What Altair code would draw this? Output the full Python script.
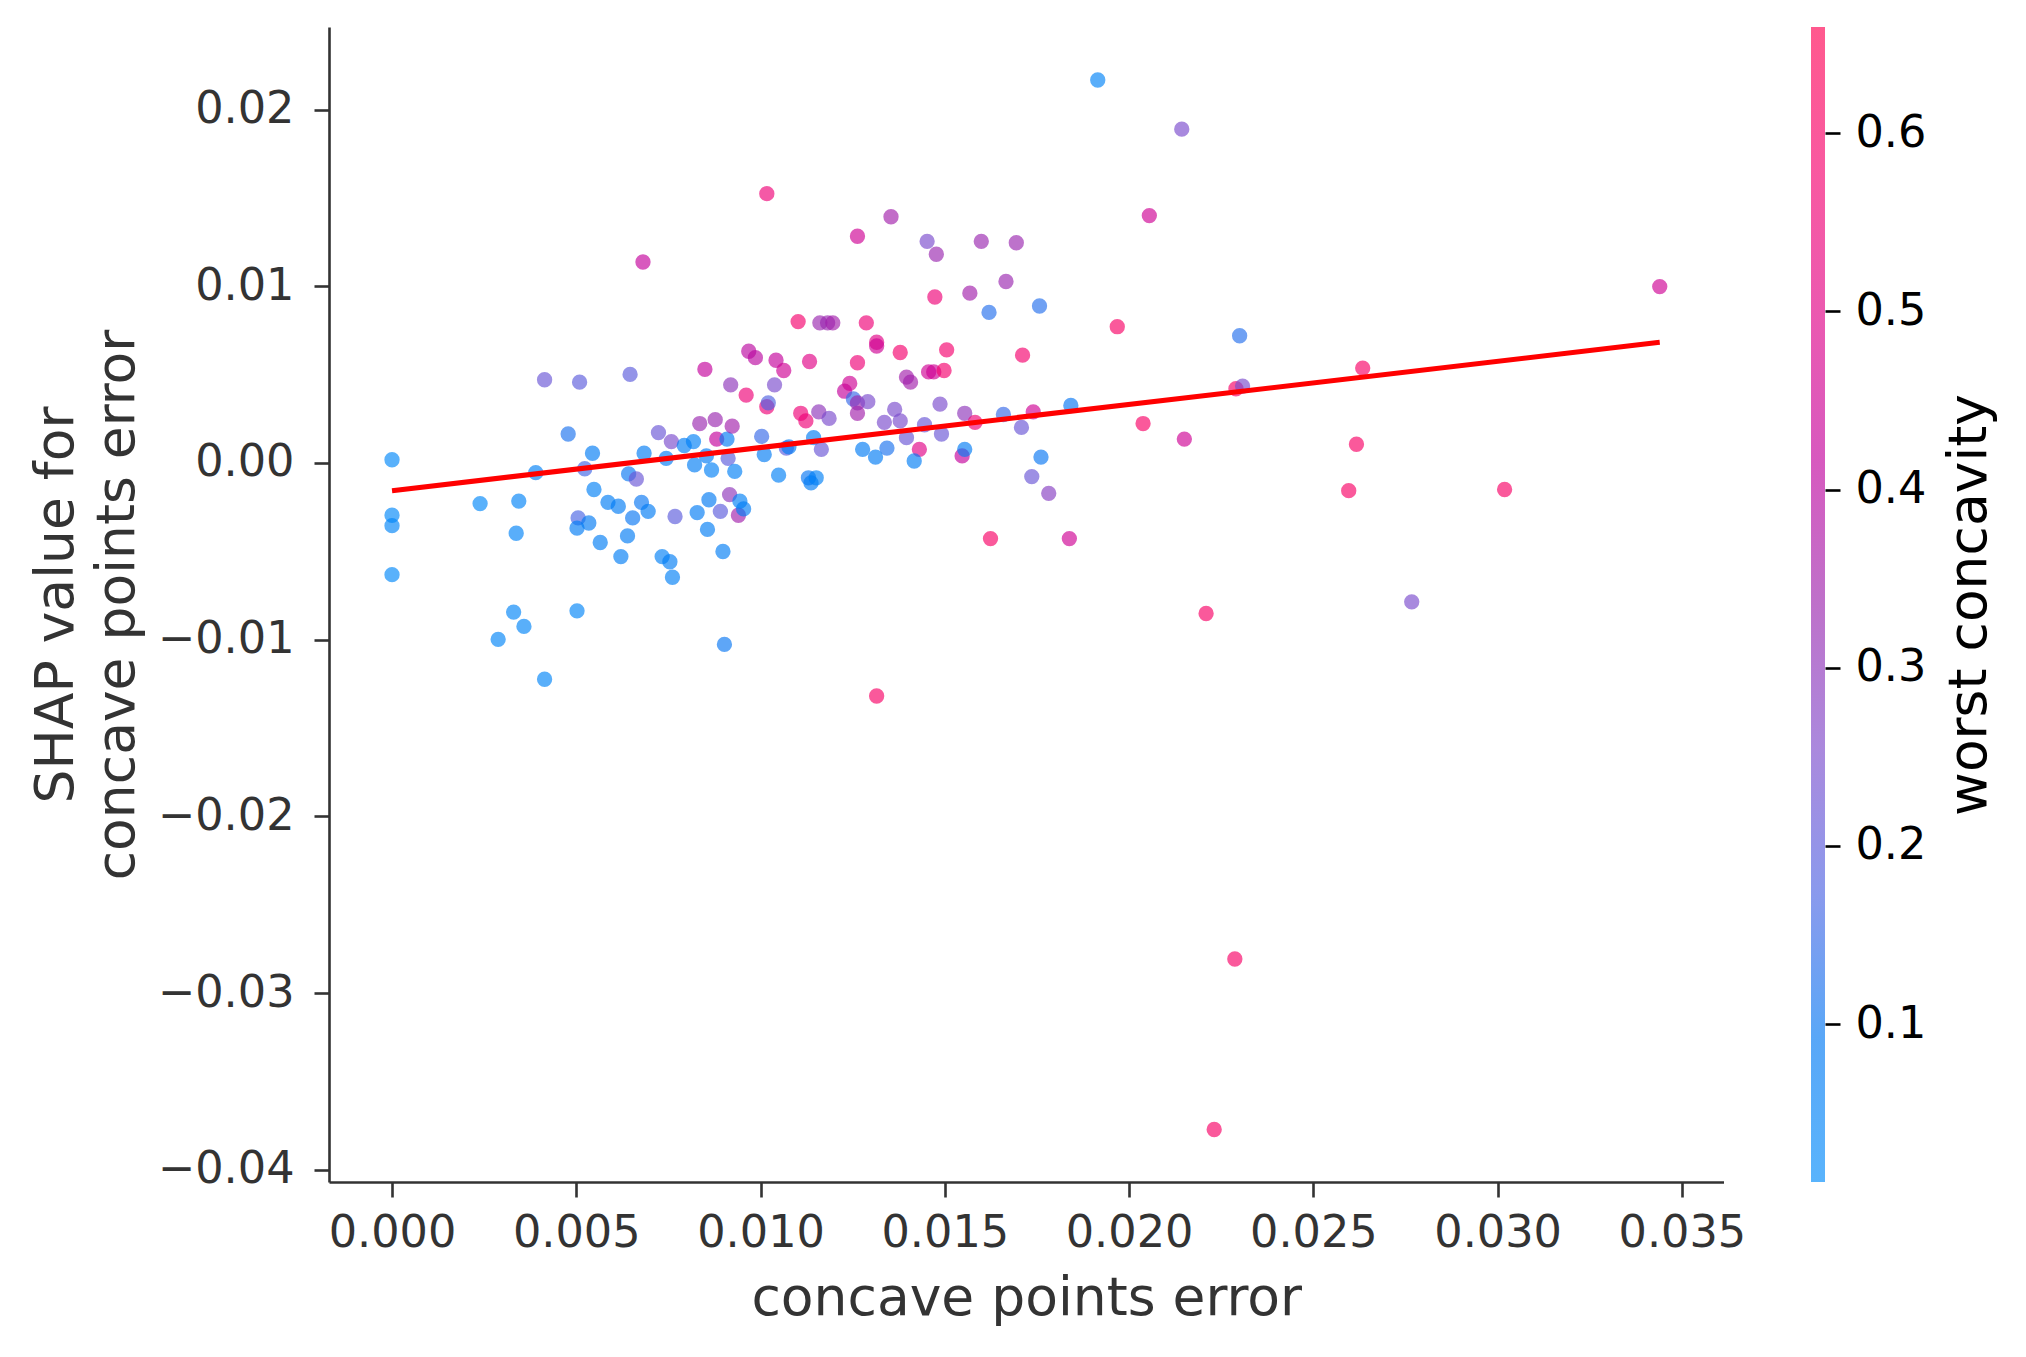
import altair as alt
import pandas as pd

# ---- data ----
x_vals = [0.0, 0.0, 0.0, 0.0, 0.00239, 0.00288, 0.00330, 0.00337, 0.00344, 0.00358,
          0.00390, 0.00414, 0.00414, 0.00478, 0.00502, 0.00505, 0.00502, 0.00509, 0.00523, 0.00534,
          0.00544, 0.00548, 0.00565, 0.00586, 0.00614, 0.00621, 0.00642, 0.00646, 0.00639, 0.00653,
          0.00663, 0.00677, 0.00681, 0.00684, 0.00695, 0.00723, 0.00733, 0.00744, 0.00754, 0.00758,
          0.00761, 0.00768, 0.00793, 0.00818, 0.00821, 0.00828, 0.00835, 0.00849, 0.00853, 0.00860,
          0.00856, 0.00867, 0.00877, 0.00881, 0.00891, 0.00902, 0.00898, 0.00909, 0.00912, 0.00916,
          0.00919, 0.00923, 0.00930, 0.00940, 0.00944, 0.00954, 0.00961, 0.00968, 0.00986, 0.01003,
          0.01010, 0.01017, 0.01021, 0.01017, 0.01038, 0.01042, 0.01049, 0.01063, 0.01070, 0.01077,
          0.01102, 0.01109, 0.01123, 0.01133, 0.01130, 0.01137, 0.01144, 0.01151, 0.01158, 0.01161,
          0.01165, 0.01182, 0.01186, 0.01196, 0.01228, 0.01242, 0.01252, 0.01263, 0.01263, 0.01263,
          0.01263, 0.01277, 0.01287, 0.01291, 0.01315, 0.01315, 0.01312, 0.01315, 0.01336, 0.01343,
          0.01354, 0.01364, 0.01379, 0.01379, 0.01396, 0.01407, 0.01431, 0.01396, 0.01417, 0.01445,
          0.01452, 0.01456, 0.01470, 0.01477, 0.01473, 0.01487, 0.01491, 0.01498, 0.01505, 0.01547,
          0.01554, 0.01554, 0.01568, 0.01582, 0.01599, 0.01620, 0.01624, 0.01659, 0.01666, 0.01694,
          0.01708, 0.01711, 0.01736, 0.01740, 0.01757, 0.01761, 0.01782, 0.01838, 0.01842, 0.01915,
          0.01968, 0.02038, 0.02055, 0.02143, 0.02150, 0.02209, 0.02287, 0.02231, 0.02300, 0.02290,
          0.02308, 0.02596, 0.02617, 0.02634, 0.02767, 0.03019, 0.03440]
y_vals = [0.00018, -0.00296, -0.00355, -0.00632, -0.00230, -0.00998, -0.00844, -0.00398, -0.00216, -0.00925,
          -0.00055, -0.01224, 0.00471, 0.00164, -0.00837, -0.00311, -0.00369, 0.00457, -0.00033, -0.00340,
          0.00055, -0.00150, -0.00450, -0.00223, -0.00245, -0.00530, -0.00062, 0.00501, -0.00413, -0.00311,
          -0.00091, -0.00223, 0.01137, 0.00055, -0.00274, 0.00172, -0.00530, 0.00026, -0.00559, 0.00121,
          -0.00647, -0.00303, 0.00099, 0.00121, -0.00011, -0.00281, 0.00223, 0.00530, 0.00040, -0.00208,
          -0.00376, -0.00040, 0.00245, 0.00135, -0.00274, -0.01027, -0.00501, 0.00135, 0.00026, -0.00179,
          0.00442, 0.00208, -0.00048, -0.00296, -0.00216, -0.00260, 0.00384, 0.00632, 0.00596, 0.00150,
          0.00048, 0.00318, 0.00340, 0.01524, 0.00442, 0.00581, -0.00069, 0.00523, 0.00084, 0.00091,
          0.00800, 0.00281, 0.00238, 0.00574, -0.00084, -0.00113, 0.00143, -0.00084, 0.00289, 0.00793,
          0.00077, 0.00793, 0.00252, 0.00793, 0.00406, 0.00450, 0.00362, 0.00281, 0.00340, 0.00567,
          0.01283, 0.00077, 0.00793, 0.00347, 0.00683, 0.00662, 0.00033, -0.01319, 0.00230, 0.00084,
          0.01393, 0.00303, 0.00238, 0.00625, 0.00486, 0.00457, 0.00077, 0.00143, 0.00011, 0.00216,
          0.01254, 0.00515, 0.00515, 0.01181, 0.00939, 0.00333, 0.00164, 0.00523, 0.00640, 0.00040,
          0.00077, 0.00281, 0.00961, 0.00230, 0.01254, 0.00852, -0.00428, 0.00274, 0.01027, 0.01246,
          0.00201, 0.00610, -0.00077, 0.00289, 0.00888, 0.00033, -0.00172, -0.00428, 0.00325, 0.02167,
          0.00771, 0.00223, 0.01400, 0.01889, 0.00135, -0.00852, -0.02807, -0.03772, 0.00720, 0.00420,
          0.00435, -0.00157, 0.00106, 0.00537, -0.00786, -0.00150, 0.00998]
c_vals = [0.03, 0.03, 0.04, 0.03, 0.03, 0.04, 0.04, 0.05, 0.05, 0.04,
          0.06, 0.04, 0.22, 0.12, 0.04, 0.17, 0.08, 0.20, 0.16, 0.09,
          0.08, 0.06, 0.07, 0.07, 0.08, 0.07, 0.10, 0.20, 0.08, 0.10,
          0.22, 0.10, 0.42, 0.08, 0.08, 0.22, 0.06, 0.08, 0.07, 0.25,
          0.06, 0.20, 0.07, 0.06, 0.07, 0.08, 0.33, 0.42, 0.08, 0.09,
          0.07, 0.06, 0.33, 0.42, 0.20, 0.10, 0.07, 0.08, 0.20, 0.30,
          0.30, 0.35, 0.06, 0.35, 0.06, 0.07, 0.55, 0.40, 0.40, 0.15,
          0.08, 0.55, 0.18, 0.55, 0.25, 0.42, 0.06, 0.45, 0.20, 0.08,
          0.58, 0.55, 0.55, 0.50, 0.10, 0.08, 0.08, 0.06, 0.30, 0.33,
          0.22, 0.33, 0.25, 0.35, 0.42, 0.45, 0.15, 0.35, 0.33, 0.55,
          0.45, 0.08, 0.55, 0.25, 0.50, 0.45, 0.08, 0.60, 0.25, 0.12,
          0.35, 0.25, 0.25, 0.58, 0.35, 0.35, 0.50, 0.22, 0.07, 0.22,
          0.25, 0.45, 0.45, 0.33, 0.55, 0.25, 0.22, 0.58, 0.58, 0.42,
          0.08, 0.30, 0.35, 0.55, 0.33, 0.13, 0.60, 0.15, 0.33, 0.33,
          0.22, 0.58, 0.22, 0.45, 0.13, 0.10, 0.28, 0.45, 0.10, 0.05,
          0.60, 0.60, 0.45, 0.25, 0.45, 0.60, 0.60, 0.60, 0.13, 0.60,
          0.25, 0.60, 0.60, 0.60, 0.25, 0.60, 0.45]

fit_x = [0.0, 0.0344]
fit_y = [-0.00157, 0.00683]

x_ticks = [0.0, 0.005, 0.010, 0.015, 0.020, 0.025, 0.030, 0.035]
y_ticks = [-0.04, -0.03, -0.02, -0.01, 0.0, 0.01, 0.02]
cbar_ticks = [0.1, 0.2, 0.3, 0.4, 0.5, 0.6]
cbar_range = [0.0114, 0.6596]
x_domain = [-0.00171, 0.03613]
y_domain = [-0.04069, 0.02467]

# shap red_blue colormap stops (blue -> purple -> red)
cmap = ["#008bfb", "#0078f3", "#4b63e3", "#7d49cb", "#9b24ad",
        "#c2009c", "#e00086", "#f5006d", "#ff0051"]

FONT = "DejaVu Sans"
AX = "#333333"

df = pd.DataFrame({"x": x_vals, "y": y_vals, "c": c_vals})
fit_df = pd.DataFrame({"x": fit_x, "y": fit_y})

n = len(cmap) - 1
c_domain = [cbar_range[0] + i * (cbar_range[1] - cbar_range[0]) / n for i in range(n + 1)]

xscale = alt.Scale(domain=x_domain, nice=False, zero=False)
yscale = alt.Scale(domain=y_domain, nice=False, zero=False)

pts = alt.Chart(df).mark_circle(size=235, opacity=0.65, strokeWidth=0).encode(
    x=alt.X("x:Q", scale=xscale,
            axis=alt.Axis(values=x_ticks, format=".3f", title="concave points error",
                          labelPadding=14, titlePadding=18, labelFlush=False,
                          labelOverlap=False)),
    y=alt.Y("y:Q", scale=yscale,
            axis=alt.Axis(values=y_ticks,
                          labelExpr="replace(format(datum.value, '.2f'), '-', '\u2212')",
                          title=["SHAP value for", "concave points error"],
                          labelPadding=20, titlePadding=13, titleLineHeight=61,
                          labelOverlap=False)),
    color=alt.Color("c:Q", scale=alt.Scale(domain=c_domain, range=cmap,
                                           interpolate="rgb", clamp=True),
                    legend=None),
)

line = alt.Chart(fit_df).mark_line(color="#ff0000", strokeWidth=5).encode(
    x=alt.X("x:Q", scale=xscale, title="concave points error"),
    y=alt.Y("y:Q", scale=yscale, title=["SHAP value for", "concave points error"]),
)

scatter = alt.layer(pts, line).properties(width=1394.5, height=1155)

gradient = {
    "gradient": "linear", "x1": 0, "y1": 1, "x2": 0, "y2": 0,
    "stops": [{"offset": i / n, "color": col} for i, col in enumerate(cmap)],
}

cbar_df = pd.DataFrame({"lo": [cbar_range[0]], "hi": [cbar_range[1]]})
cbar = alt.Chart(cbar_df).mark_rect(fill=gradient, opacity=0.65).encode(
    x=alt.value(0), x2=alt.value(14),
    y=alt.Y("lo:Q", scale=alt.Scale(domain=cbar_range, nice=False, zero=False),
            axis=alt.Axis(orient="right", values=cbar_ticks, format=".1f",
                          title="worst concavity", domain=False,
                          labelColor="#000000", titleColor="#000000",
                          tickColor="#000000", tickSize=15, labelPadding=15,
                          titleAngle=270, titleBaseline="top", titlePadding=18)),
    y2="hi:Q",
).properties(width=14, height=1155)

chart = alt.hconcat(scatter, cbar, spacing=87, bounds="flush").properties(
    padding={"left": 29, "top": 27, "right": 10, "bottom": 10},
    background="white",
).configure_view(stroke=None).configure_axis(
    grid=False,
    domainColor=AX, domainWidth=2.6,
    tickColor=AX, tickWidth=2.6, tickSize=15,
    labelFont=FONT, labelFontSize=44.6, labelColor=AX,
    titleFont=FONT, titleFontSize=53.5, titleColor=AX, titleFontWeight="normal",
)

chart.save("out.html", embed_options={"renderer": "svg", "actions": False})
